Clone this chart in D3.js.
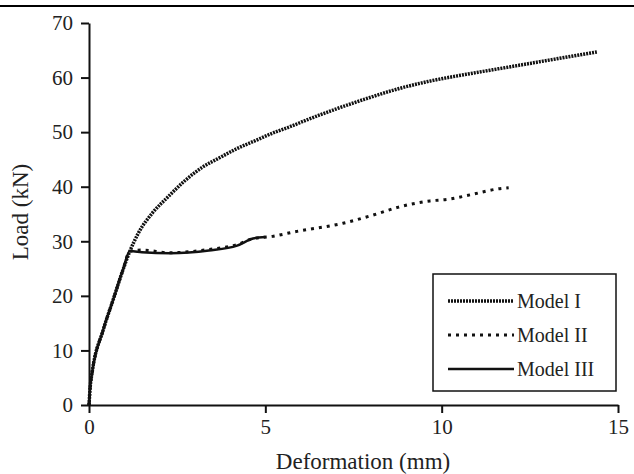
<!DOCTYPE html>
<meta charset="utf-8">
<head>
<script src="https://d3js.org/d3.v7.min.js"></script>
<style>
  body { margin: 0; background: #fff; }
  svg text { font-family: "Liberation Serif", "Times New Roman", serif; fill: #222; }
</style>
</head>
<body>
<svg width="634" height="474" id="chart"></svg>
<script>
// values: deformation (mm), load (kN)
var modelI = [
  [0, 0], [0.03, 3], [0.09, 6], [0.4, 13.7], [0.68, 19.2], [0.96, 24.7], [1.16, 28.2],
  [1.4, 31.5], [1.8, 35.2], [2.25, 38.2], [2.7, 41], [3.2, 43.5], [3.7, 45.3],
  [4.2, 47], [4.7, 48.4], [5.2, 49.8], [5.7, 51], [6.2, 52.3], [6.9, 54],
  [7.8, 56], [8.8, 58], [9.7, 59.4], [10.7, 60.6], [11.6, 61.6], [12.6, 62.7],
  [13.5, 63.7], [14.4, 64.7]
];
var modelII = [
  [0, 0], [0.03, 3], [0.09, 6], [0.4, 13.7], [0.68, 19.2], [0.96, 24.7], [1.16, 28.2],
  [1.5, 28.4], [2.3, 27.9], [3.4, 28.5], [4.2, 29.4], [4.65, 30.5], [5.2, 30.9],
  [5.8, 31.7], [7.2, 33.3], [8.05, 34.8], [8.8, 36.3], [9.67, 37.4], [10.2, 37.7],
  [10.8, 38.5], [11.6, 39.6], [11.9, 39.8]
];
var modelIII = [
  [0, 0], [0.03, 3], [0.09, 6], [0.4, 13.7], [0.68, 19.2], [0.96, 24.7], [1.16, 28.2],
  [1.5, 28], [2.3, 27.8], [3.4, 28.3], [4.2, 29.2], [4.65, 30.5], [5.0, 30.8]
];
var seriesNames = ["Model I", "Model II", "Model III"];
var xTicks = [0, 5, 10, 15];
var yTicks = [0, 10, 20, 30, 40, 50, 60, 70];

var styles = [
  { width: 3.5, dash: "2,1" },
  { width: 3, dash: "3,5" },
  { width: 2.5, dash: null }
];

var svg = d3.select("#chart");

// rule across the top of the scan
svg.append("line")
  .attr("x1", 0).attr("x2", 634).attr("y1", 6).attr("y2", 6)
  .attr("stroke", "#000").attr("stroke-width", 2);

var x = d3.scaleLinear().domain([0, 15]).range([89, 618]);
var y = d3.scaleLinear().domain([0, 70]).range([405, 23]);

var xAxis = svg.append("g")
  .attr("transform", "translate(0,405)")
  .call(d3.axisBottom(x).tickValues(xTicks).tickSize(8).tickPadding(6).tickSizeOuter(0));
var yAxis = svg.append("g")
  .attr("transform", "translate(89,0)")
  .call(d3.axisLeft(y).tickValues(yTicks).tickSize(8).tickPadding(8).tickSizeOuter(0));

[xAxis, yAxis].forEach(function(a) {
  a.selectAll("path, line").attr("stroke", "#111").attr("stroke-width", 2);
  a.selectAll("text").style("font-size", "21px").attr("fill", "#222");
});

svg.append("text")
  .attr("x", 363).attr("y", 469)
  .attr("text-anchor", "middle")
  .style("font-size", "23px")
  .text("Deformation (mm)");

svg.append("text")
  .attr("transform", "translate(28,212) rotate(-90)")
  .attr("text-anchor", "middle")
  .style("font-size", "23px")
  .text("Load (kN)");

var line = d3.line()
  .x(function(d) { return x(d[0]); })
  .y(function(d) { return y(d[1]); })
  .curve(d3.curveMonotoneX);

[modelI, modelII, modelIII].forEach(function(data, i) {
  svg.append("path")
    .datum(data)
    .attr("d", line)
    .attr("fill", "none")
    .attr("stroke", "#111")
    .attr("stroke-width", styles[i].width)
    .attr("stroke-dasharray", styles[i].dash);
});

// legend
var legend = svg.append("g");
legend.append("rect")
  .attr("x", 433).attr("y", 274).attr("width", 183).attr("height", 117)
  .attr("fill", "#fff").attr("stroke", "#111").attr("stroke-width", 1.5);

seriesNames.forEach(function(name, i) {
  var ly = 301 + i * 34;
  legend.append("line")
    .attr("x1", 448).attr("x2", 514).attr("y1", ly).attr("y2", ly)
    .attr("stroke", "#111")
    .attr("stroke-width", styles[i].width)
    .attr("stroke-dasharray", styles[i].dash);
  legend.append("text")
    .attr("x", 517).attr("y", ly + 7)
    .style("font-size", "20px")
    .text(name);
});
</script>
</body>
